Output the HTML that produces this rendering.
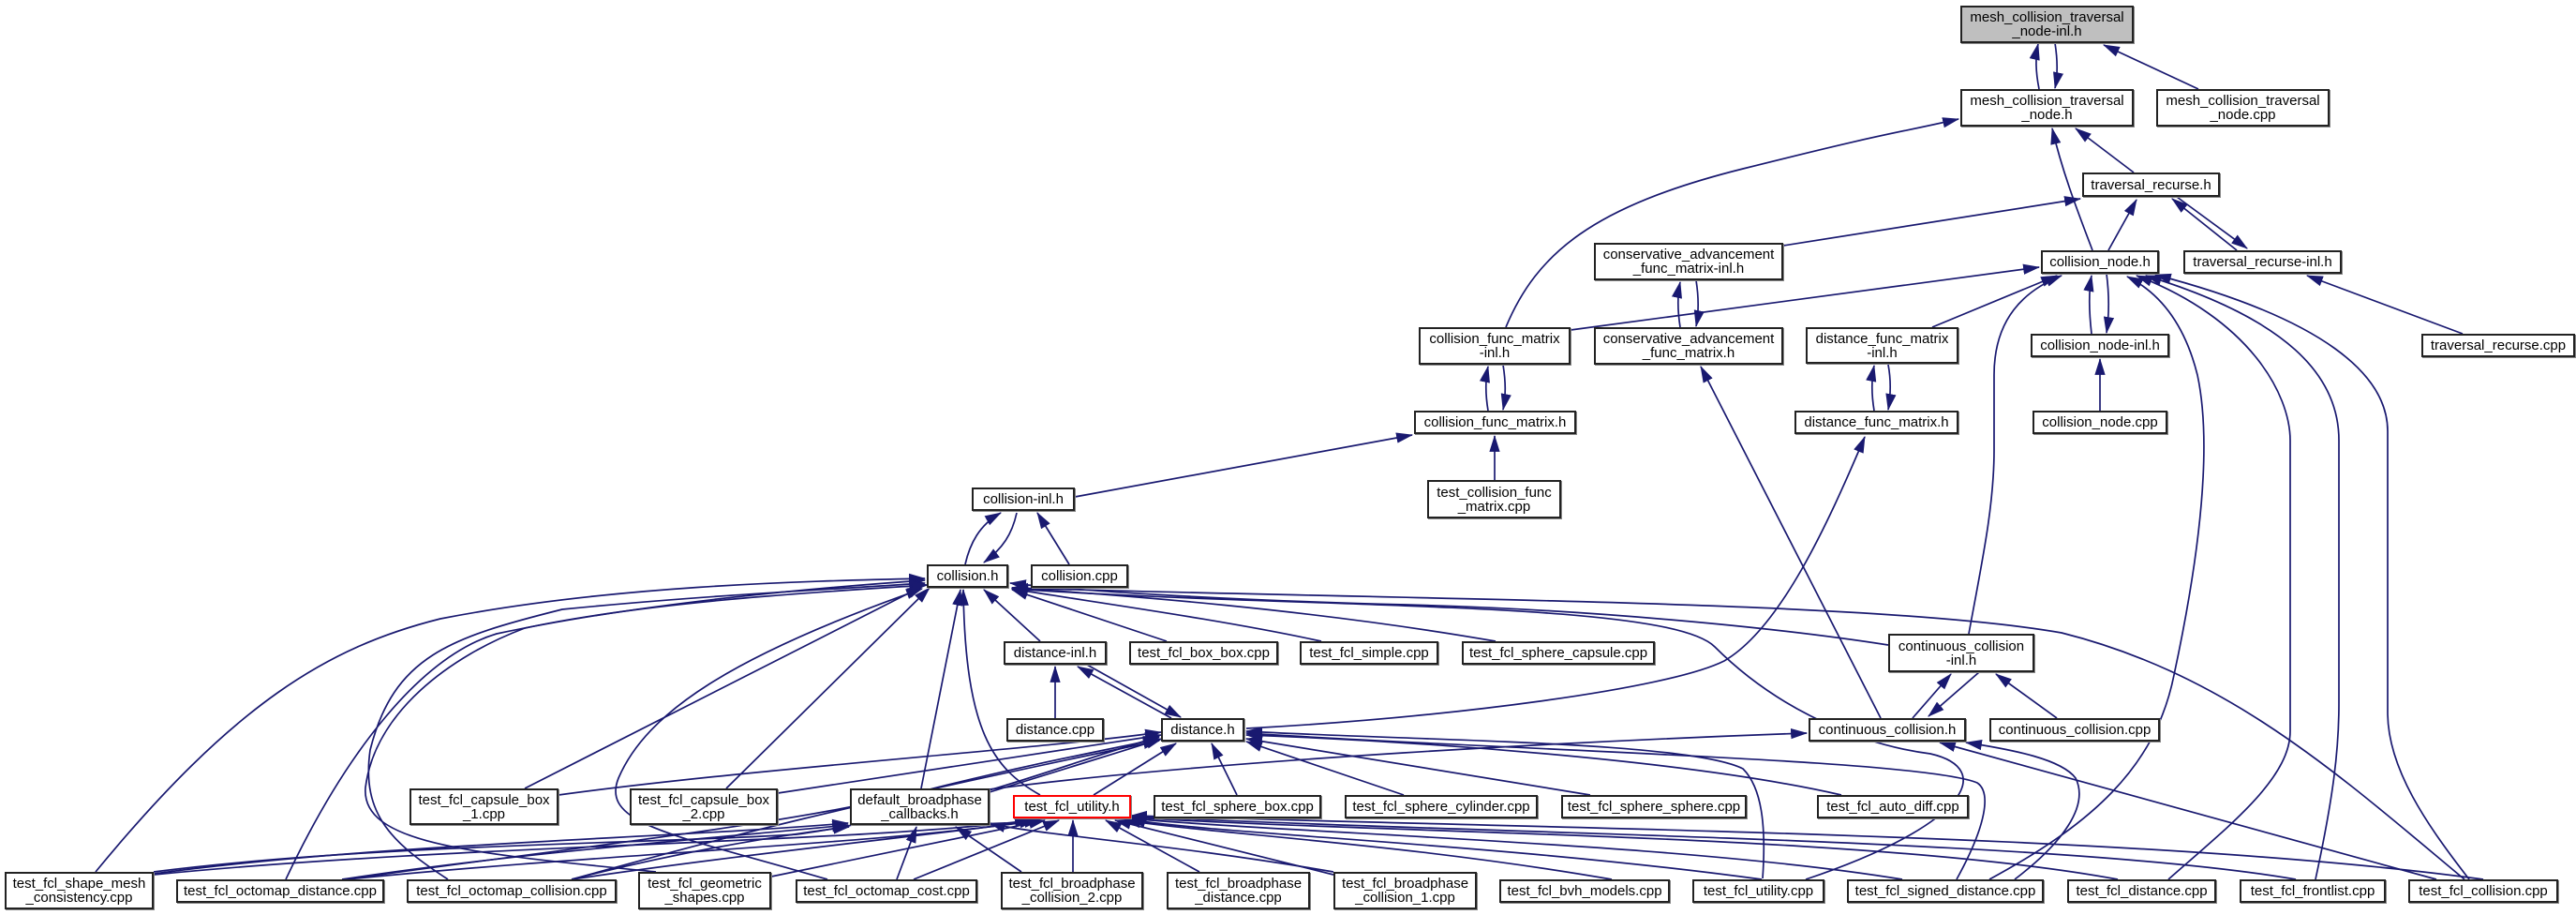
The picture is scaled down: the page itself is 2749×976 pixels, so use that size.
<!DOCTYPE html>
<html><head><meta charset="utf-8">
<style>
html,body{margin:0;padding:0;background:#fff;}
#c{position:relative;width:2749px;height:976px;overflow:hidden;background:#fff;}
svg{position:absolute;left:0;top:0;}
.n{position:absolute;box-sizing:border-box;border:2px solid #222;background:#fff;display:flex;align-items:center;justify-content:center;text-align:center;font-family:"Liberation Sans",sans-serif;font-size:15px;line-height:15px;color:#000;white-space:nowrap;box-shadow:1px 1px 0 #888;}
.g{background:#bfbfbf;}
.r{border-color:#ff0000;}
</style></head><body><div id="c">
<svg width="2749" height="976" viewBox="0 0 2749 976">
<defs><marker id="a" markerUnits="userSpaceOnUse" markerWidth="18" markerHeight="12" viewBox="0 0 16 10" refX="15" refY="5" orient="auto"><path d="M0,0 L16,5 L0,10 z" fill="#191970"/></marker></defs>
<g fill="none" stroke="#191970" stroke-width="1.7" marker-end="url(#a)">
<path d="M2176,95 C2172,75 2172,60 2175,47"/>
<path d="M2193,46 C2196,65 2196,80 2193,94"/>
<path d="M2346,95 L2245,48"/>
<path d="M2277,184 L2215,137"/>
<path d="M2233,267 C2215,220 2200,180 2190,137"/>
<path d="M1607,349 C1640,270 1700,220 1860,180 S2010,145 2090,127"/>
<path d="M1903,262 L2220,212"/>
<path d="M2250,267 L2280,213"/>
<path d="M2387,267 L2318,212"/>
<path d="M2323,210 L2398,265"/>
<path d="M2628,356 L2462,294"/>
<path d="M1676,352 L2176,285"/>
<path d="M2062,349 L2195,294"/>
<path d="M2232,356 C2229,330 2229,310 2232,294"/>
<path d="M2248,292 C2251,315 2251,335 2248,355"/>
<path d="M2101,676 C2115,600 2128,540 2128,480 L2128,400 C2128,340 2160,310 2200,294"/>
<path d="M2241,438 L2241,383"/>
<path d="M1793,349 C1790,330 1790,315 1793,301"/>
<path d="M1810,299 C1813,318 1813,333 1810,348"/>
<path d="M1588,438 C1585,420 1585,405 1588,391"/>
<path d="M1604,389 C1607,408 1607,422 1604,437"/>
<path d="M1595,512 L1595,465"/>
<path d="M1147,530 L1507,464"/>
<path d="M2007,766 L1815,391"/>
<path d="M1330,777 C1550,765 1780,735 1840,705 C1900,670 1950,560 1990,466"/>
<path d="M2123,938 C2230,880 2300,820 2320,720 C2350,580 2360,470 2345,400 C2330,340 2300,310 2270,295"/>
<path d="M2314,938 C2380,880 2444,830 2444,780 L2444,470 C2444,420 2400,340 2280,294"/>
<path d="M2471,938 C2490,850 2496,800 2496,750 L2496,470 C2496,400 2440,340 2290,294"/>
<path d="M2635,938 C2590,880 2548,820 2548,760 L2548,460 C2548,400 2480,340 2300,293"/>
<path d="M2600,938 L2070,792"/>
<path d="M2630,938 C2500,830 2380,720 2200,675 C2000,640 1500,640 1080,627"/>
<path d="M1927,938 C2100,880 2130,820 2060,804 C1990,795 1900,760 1830,690 C1780,640 1400,650 1080,628"/>
<path d="M2088,938 C2120,880 2125,845 2110,835 C2050,810 1600,800 1330,782"/>
<path d="M2150,938 C2200,900 2230,860 2215,830 C2200,810 2150,800 2098,792"/>
<path d="M1320,848 L1293,793"/>
<path d="M1498,848 L1330,791"/>
<path d="M1697,848 L1330,788"/>
<path d="M1965,848 C1800,810 1500,790 1330,784"/>
<path d="M1881,937 C1885,880 1880,840 1860,820 C1800,790 1500,790 1330,780"/>
<path d="M1167,848 L1255,793"/>
<path d="M1056,845 L1240,788"/>
<path d="M596,848 C800,820 1100,800 1239,781"/>
<path d="M830,846 L1239,784"/>
<path d="M1056,842 C1300,810 1700,790 1928,782"/>
<path d="M164,930 C400,900 700,900 850,890 C1000,870 1150,810 1237,786"/>
<path d="M370,938 C600,905 850,880 1000,840 C1100,815 1180,800 1237,788"/>
<path d="M610,938 C750,900 850,870 1237,790"/>
<path d="M164,933 C500,900 900,900 1100,875"/>
<path d="M370,938 C650,910 950,900 1105,875"/>
<path d="M610,938 C800,910 1000,890 1110,875"/>
<path d="M823,935 L1115,875"/>
<path d="M975,938 L1130,875"/>
<path d="M1145,930 L1145,875"/>
<path d="M1280,930 L1180,875"/>
<path d="M1423,933 L1190,875"/>
<path d="M1720,938 C1500,900 1300,890 1200,875"/>
<path d="M1880,938 C1600,900 1300,890 1205,874"/>
<path d="M2030,938 C1800,900 1400,890 1205,873"/>
<path d="M2260,938 C2000,890 1500,890 1207,872"/>
<path d="M2450,938 C2200,895 1600,890 1207,871"/>
<path d="M2650,938 C2300,890 1700,885 1207,870"/>
<path d="M957,938 L978,882"/>
<path d="M1090,930 L1020,882"/>
<path d="M164,932 C400,900 700,895 905,878"/>
<path d="M365,938 C550,910 750,895 905,880"/>
<path d="M610,938 C700,915 800,895 906,882"/>
<path d="M1423,930 C1250,900 1100,890 1056,878"/>
<path d="M1110,848 C1060,820 1030,780 1028,629"/>
<path d="M983,841 L1025,629"/>
<path d="M102,930 C250,750 350,690 470,660 C650,625 850,620 987,617"/>
<path d="M305,938 C370,800 450,700 530,676 C700,640 900,625 987,619"/>
<path d="M478,938 C420,900 385,870 395,800 C420,700 480,680 600,650 C750,635 900,628 987,622"/>
<path d="M560,841 L985,625"/>
<path d="M775,841 L992,627"/>
<path d="M883,938 C720,890 640,880 660,830 C690,760 780,700 984,628"/>
<path d="M700,930 C500,910 385,900 390,840 C400,760 480,700 560,670 C700,640 900,630 990,624"/>
<path d="M2015,688 C1900,670 1700,650 1500,645 C1300,640 1150,630 1078,622"/>
<path d="M1110,684 L1050,629"/>
<path d="M1245,684 L1080,629"/>
<path d="M1410,684 C1300,660 1150,640 1080,628"/>
<path d="M1596,684 C1400,650 1200,635 1080,627"/>
<path d="M1030,602 C1035,580 1045,560 1068,547"/>
<path d="M1085,547 C1080,570 1070,585 1050,600"/>
<path d="M1141,602 L1107,547"/>
<path d="M1250,766 L1150,711"/>
<path d="M1160,709 L1260,765"/>
<path d="M1126,766 L1126,711"/>
<path d="M2041,766 L2082,719"/>
<path d="M2112,717 L2058,764"/>
<path d="M2195,766 L2130,719"/>
<path d="M2000,438 C1997,420 1997,405 2000,390"/>
<path d="M2015,389 C2018,405 2018,420 2015,437"/>
</g>
</svg>
<div class="n g" style="left:2092px;top:6px;width:185px;height:40px">mesh_collision_traversal<br>_node-inl.h</div>
<div class="n" style="left:2092px;top:95px;width:185px;height:40px">mesh_collision_traversal<br>_node.h</div>
<div class="n" style="left:2301px;top:95px;width:185px;height:40px">mesh_collision_traversal<br>_node.cpp</div>
<div class="n" style="left:2222px;top:184px;width:147px;height:26px">traversal_recurse.h</div>
<div class="n" style="left:2178px;top:267px;width:126px;height:25px">collision_node.h</div>
<div class="n" style="left:2330px;top:267px;width:169px;height:25px">traversal_recurse-inl.h</div>
<div class="n" style="left:2167px;top:356px;width:148px;height:25px">collision_node-inl.h</div>
<div class="n" style="left:2584px;top:356px;width:164px;height:25px">traversal_recurse.cpp</div>
<div class="n" style="left:1927px;top:349px;width:163px;height:39px">distance_func_matrix<br>-inl.h</div>
<div class="n" style="left:1701px;top:259px;width:202px;height:40px">conservative_advancement<br>_func_matrix-inl.h</div>
<div class="n" style="left:1514px;top:349px;width:162px;height:40px">collision_func_matrix<br>-inl.h</div>
<div class="n" style="left:1701px;top:349px;width:202px;height:40px">conservative_advancement<br>_func_matrix.h</div>
<div class="n" style="left:1509px;top:438px;width:173px;height:25px">collision_func_matrix.h</div>
<div class="n" style="left:1523px;top:512px;width:143px;height:41px">test_collision_func<br>_matrix.cpp</div>
<div class="n" style="left:1037px;top:520px;width:110px;height:25px">collision-inl.h</div>
<div class="n" style="left:1915px;top:438px;width:175px;height:25px">distance_func_matrix.h</div>
<div class="n" style="left:2169px;top:438px;width:144px;height:25px">collision_node.cpp</div>
<div class="n" style="left:989px;top:602px;width:87px;height:25px">collision.h</div>
<div class="n" style="left:1100px;top:602px;width:104px;height:25px">collision.cpp</div>
<div class="n" style="left:1071px;top:684px;width:110px;height:25px">distance-inl.h</div>
<div class="n" style="left:1205px;top:684px;width:159px;height:25px">test_fcl_box_box.cpp</div>
<div class="n" style="left:1387px;top:684px;width:148px;height:25px">test_fcl_simple.cpp</div>
<div class="n" style="left:1560px;top:684px;width:206px;height:25px">test_fcl_sphere_capsule.cpp</div>
<div class="n" style="left:2015px;top:676px;width:156px;height:41px">continuous_collision<br>-inl.h</div>
<div class="n" style="left:1074px;top:766px;width:104px;height:25px">distance.cpp</div>
<div class="n" style="left:1239px;top:766px;width:89px;height:25px">distance.h</div>
<div class="n" style="left:1930px;top:766px;width:168px;height:25px">continuous_collision.h</div>
<div class="n" style="left:2123px;top:766px;width:182px;height:25px">continuous_collision.cpp</div>
<div class="n" style="left:437px;top:841px;width:159px;height:39px">test_fcl_capsule_box<br>_1.cpp</div>
<div class="n" style="left:672px;top:841px;width:158px;height:39px">test_fcl_capsule_box<br>_2.cpp</div>
<div class="n" style="left:907px;top:841px;width:149px;height:39px">default_broadphase<br>_callbacks.h</div>
<div class="n r" style="left:1081px;top:848px;width:126px;height:25px">test_fcl_utility.h</div>
<div class="n" style="left:1231px;top:848px;width:179px;height:25px">test_fcl_sphere_box.cpp</div>
<div class="n" style="left:1435px;top:848px;width:206px;height:25px">test_fcl_sphere_cylinder.cpp</div>
<div class="n" style="left:1666px;top:848px;width:198px;height:25px">test_fcl_sphere_sphere.cpp</div>
<div class="n" style="left:1939px;top:848px;width:162px;height:25px">test_fcl_auto_diff.cpp</div>
<div class="n" style="left:5px;top:930px;width:159px;height:40px">test_fcl_shape_mesh<br>_consistency.cpp</div>
<div class="n" style="left:188px;top:938px;width:222px;height:25px">test_fcl_octomap_distance.cpp</div>
<div class="n" style="left:434px;top:938px;width:224px;height:25px">test_fcl_octomap_collision.cpp</div>
<div class="n" style="left:681px;top:930px;width:142px;height:40px">test_fcl_geometric<br>_shapes.cpp</div>
<div class="n" style="left:849px;top:938px;width:194px;height:25px">test_fcl_octomap_cost.cpp</div>
<div class="n" style="left:1068px;top:930px;width:152px;height:40px">test_fcl_broadphase<br>_collision_2.cpp</div>
<div class="n" style="left:1245px;top:930px;width:153px;height:40px">test_fcl_broadphase<br>_distance.cpp</div>
<div class="n" style="left:1423px;top:930px;width:153px;height:40px">test_fcl_broadphase<br>_collision_1.cpp</div>
<div class="n" style="left:1600px;top:938px;width:182px;height:25px">test_fcl_bvh_models.cpp</div>
<div class="n" style="left:1806px;top:938px;width:141px;height:25px">test_fcl_utility.cpp</div>
<div class="n" style="left:1971px;top:938px;width:210px;height:25px">test_fcl_signed_distance.cpp</div>
<div class="n" style="left:2206px;top:938px;width:159px;height:25px">test_fcl_distance.cpp</div>
<div class="n" style="left:2390px;top:938px;width:156px;height:25px">test_fcl_frontlist.cpp</div>
<div class="n" style="left:2570px;top:938px;width:160px;height:25px">test_fcl_collision.cpp</div>
</div></body></html>
